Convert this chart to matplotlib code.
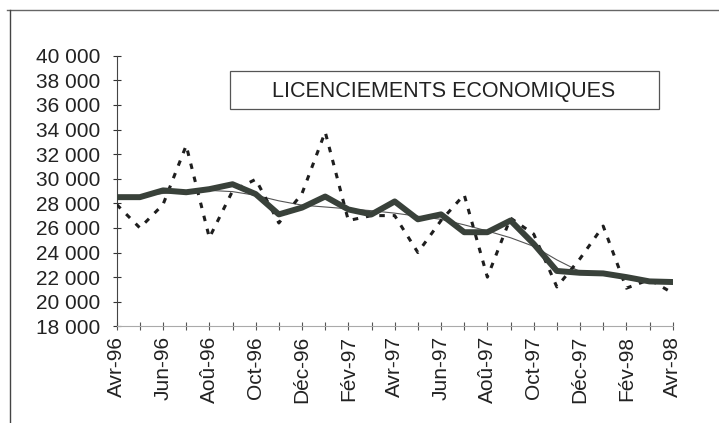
import matplotlib
matplotlib.use('Agg')
from matplotlib import pyplot as plt
from matplotlib.lines import Line2D
from matplotlib.patches import Rectangle

# --- DATA ---
MONTHS = ['Avr-96', 'Mai-96', 'Jun-96', 'Jul-96', 'Aoû-96', 'Sep-96', 'Oct-96',
          'Nov-96', 'Déc-96', 'Jan-97', 'Fév-97', 'Mar-97', 'Avr-97', 'Mai-97',
          'Jun-97', 'Jul-97', 'Aoû-97', 'Sep-97', 'Oct-97', 'Nov-97', 'Déc-97',
          'Jan-98', 'Fév-98', 'Mar-98', 'Avr-98']

# raw monthly figures (dashed)
RAW = [27900, 26000, 27900, 32700, 25200, 29000, 29950, 26400, 28800, 33800,
       26600, 27000, 27000, 24000, 26600, 28700, 22000, 26800, 25500, 21200,
       23500, 26150, 21100, 21800, 20700]

# smoothed series (thick)
SMOOTH = [28500, 28500, 29050, 28900, 29150, 29550, 28750, 27100, 27650, 28550,
          27500, 27100, 28150, 26700, 27100, 25650, 25650, 26600, 24700, 22500,
          22350, 22300, 22000, 21650, 21600]

# trend (thin)
TREND = [28500, 28600, 28800, 28950, 29050, 28950, 28650, 28200, 27850, 27700,
         27550, 27400, 27200, 26950, 26700, 26250, 25750, 25200, 24500, 23400,
         22450, 22300, 22000, 21650, 21600]

Y_TICKS = list(range(18000, 40001, 2000))
TITLE = 'LICENCIEMENTS ECONOMIQUES'

plt.rcParams['font.family'] = ['Liberation Sans', 'DejaVu Sans']

fig = plt.figure(figsize=(7.19, 4.23), dpi=100)
ax = fig.add_axes([0.1623, 0.2286, 0.7733, 0.6397])

x = list(range(len(MONTHS)))
ax.plot(x, TREND, color='#555555', linewidth=0.8, zorder=2)
ax.plot(x, RAW, color='#1e1e1e', linewidth=2.2, dashes=(1.8, 2.6), zorder=3)
ax.plot(x, SMOOTH, color='#39413a', linewidth=4.3, solid_capstyle='round',
        solid_joinstyle='round', zorder=4)

ax.set_xlim(0, len(MONTHS) - 1)
ax.set_ylim(18000, 40000)
ax.set_yticks(Y_TICKS)
ax.set_yticklabels([f'{v:,}'.replace(',', ' ') for v in Y_TICKS])
ax.set_xticks(x)
ax.set_xticklabels([m if i % 2 == 0 else '' for i, m in enumerate(MONTHS)],
                   rotation=90)

ax.tick_params(axis='y', direction='inout', length=6, width=0.8, pad=9,
               labelsize=15, colors='#333333', labelcolor='#222222')
ax.tick_params(axis='x', direction='inout', length=6, width=0.8, pad=4,
               labelsize=15, colors='#555555', labelcolor='#222222')

for side in ['top', 'right']:
    ax.spines[side].set_visible(False)
ax.spines['left'].set_color('#444444')
ax.spines['bottom'].set_color('#aaaaaa')

# title box
fig.patches.append(Rectangle((230 / 719, 1 - 109 / 423), 429 / 719, 38 / 423,
                             transform=fig.transFigure, fill=False,
                             edgecolor='#555555', linewidth=0.9))
fig.text(444 / 719, 1 - 91 / 423, TITLE, ha='center', va='center',
         fontsize=15.5, color='#222222')

# outer frame (top and left edges of the scan)
fig.add_artist(Line2D([7 / 719, 1], [1 - 10 / 423, 1 - 10 / 423],
                      transform=fig.transFigure, color='#666666', linewidth=1.0))
fig.add_artist(Line2D([10 / 719, 10 / 719], [0, 1 - 10 / 423],
                      transform=fig.transFigure, color='#444444', linewidth=1.0))

fig.savefig('out.png', dpi=100)
